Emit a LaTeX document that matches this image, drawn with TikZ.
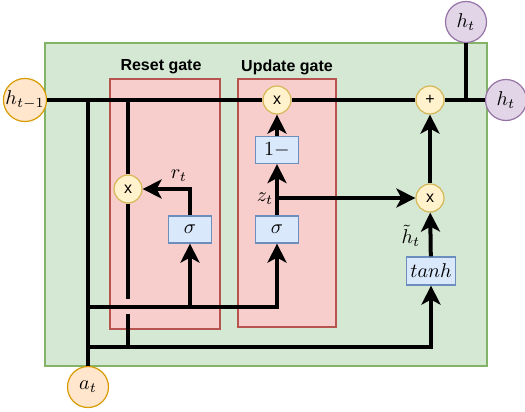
\documentclass[tikz,border=0pt]{standalone}
\usepackage{fontspec}
\newfontfamily\arialf{Liberation Sans}
\usetikzlibrary{arrows.meta}
\definecolor{gfill}{HTML}{D5E8D4}
\definecolor{gline}{HTML}{82B366}
\definecolor{rfill}{HTML}{F8CECC}
\definecolor{rline}{HTML}{B85450}
\definecolor{yfill}{HTML}{FFF2CC}
\definecolor{yline}{HTML}{D6B656}
\definecolor{ofill}{HTML}{FFE6CC}
\definecolor{oline}{HTML}{D79B00}
\definecolor{pfill}{HTML}{E1D5E7}
\definecolor{pline}{HTML}{9673A6}
\definecolor{bfill}{HTML}{DAE8FC}
\definecolor{bline}{HTML}{6C8EBF}
\tikzset{
  ocirc/.style={circle, draw=oline, fill=ofill, line width=0.6pt, minimum size=20.5pt, inner sep=0pt},
  pcirc/.style={circle, draw=pline, fill=pfill, line width=0.6pt, minimum size=20.5pt, inner sep=0pt},
  ycirc/.style={circle, draw=yline, fill=yfill, line width=0.6pt, minimum size=14pt, inner sep=0pt, font=\arialf\fontsize{8}{9}\selectfont},
  bbox/.style={rectangle, draw=bline, fill=bfill, line width=0.6pt, minimum width=21.5pt, minimum height=13.5pt, inner sep=0pt},
  wire/.style={line width=2pt},
  arr/.style={wire, -{Stealth[length=9.5pt, width=9.5pt, inset=2.5pt]}},
  gatelabel/.style={font=\arialf\bfseries\fontsize{8}{9}\selectfont, inner sep=0pt},
  greenbox/.style={draw=gline, fill=gfill, line width=0.6pt},
  redbox/.style={draw=rline, fill=rfill, line width=0.6pt},
}
\begin{document}
\begin{tikzpicture}[x=0.5pt, y=-0.5pt]
\useasboundingbox (0,0) rectangle (525,412);
% containers
\draw[greenbox] (45,43) rectangle (487,366);
\draw[redbox] (110,79) rectangle (220,329);
\draw[redbox] (238,79) rectangle (336,327);
\node[gatelabel] (lreset) at (161,67) {Reset gate};
\node[gatelabel] (lupdate) at (287,67) {Update gate};
% nodes
\node[ocirc] (htm1) at (25,100) {$h_{t-1}$};
\node[ocirc] (at) at (88,387) {$a_t$};
\node[pcirc] (htop) at (466,22) {$h_t$};
\node[pcirc] (hright) at (506,100) {$h_t$};
\node[ycirc] (xu) at (277,100) {x};
\node[ycirc] (plus) at (430,100) {+};
\node[ycirc] (xr) at (128,189) {x};
\node[ycirc] (xt) at (430,198) {x};
\node[bbox] (sr) at (190,229.5) {$\sigma$};
\node[bbox] (sz) at (277,229.5) {$\sigma$};
\node[bbox] (om) at (277,150) {$1-$};
\node[bbox, minimum width=24.5pt, minimum height=14pt] (tanh) at (431,271) {$tanh$};
% labels
\node[inner sep=0pt] (lr) at (179,176) {$r_t$};
\node[inner sep=0pt] (lz) at (265,199) {$z_t$};
\node[inner sep=0pt] (lh) at (411,236) {$\tilde{h}_t$};
% junction coordinates
\coordinate (jA) at (88,100);
\coordinate (jB) at (128,100);
\coordinate (jC) at (466,100);
\coordinate (g1) at (128,299);
\coordinate (g2) at (128,314);
\coordinate (b1) at (128,347);
\coordinate (m0) at (88,307);
\coordinate (m1) at (190,307);
\coordinate (n0) at (88,347);
\coordinate (zb) at (277,198);
% wires
\draw[wire] (htm1) -- (xu);
\draw[wire] (xu) -- (plus);
\draw[wire] (plus) -- (hright);
\draw[wire] (jC) -- (htop);
\draw[wire] (jA) -- (at);
\draw[wire] (jB) -- (xr);
\draw[wire] (xr) -- (g1);
\draw[wire] (g2) -- (b1);
\draw[arr] (n0) -| (tanh);
\draw[arr] (m0) -| (sz);
\draw[arr] (m1) -- (sr);
\draw[arr] (sr) |- (xr);
\draw[arr] (sz) -- (om);
\draw[arr] (om) -- (xu);
\draw[arr] (zb) -- (xt);
\draw[arr] (tanh) -- (xt);
\draw[arr] (xt) -- (plus);
\end{tikzpicture}
\end{document}
